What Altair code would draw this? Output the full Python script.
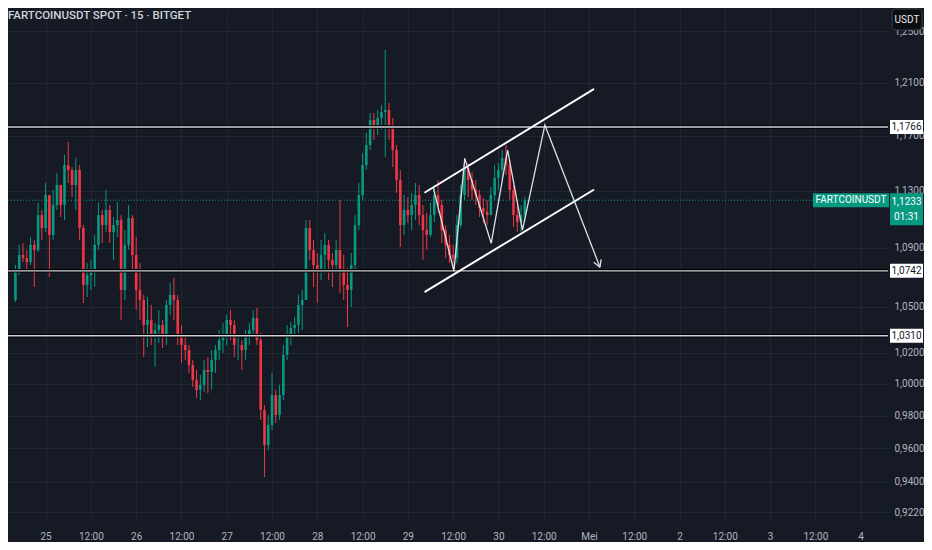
import altair as alt
import pandas as pd

# ---------------- data ----------------
first_open = 1.0546
hours = list(range(-8, 128))  # hours since 25 Apr 00:00
highs = [1.0782, 1.0920, 1.0933, 1.0885, 1.0975, 1.0954, 1.1214, 1.1164,
         1.1356, 1.1270, 1.1306, 1.1428, 1.1342, 1.1559, 1.1655, 1.1472,
         1.1538, 1.1486, 1.1058, 1.0795, 1.0816, 1.0989, 1.1214, 1.1164,
         1.1306, 1.1199, 1.1114, 1.1221, 1.1128, 1.1023, 1.1199, 1.1128,
         1.0975, 1.0795, 1.0580, 1.0566, 1.0513, 1.0393, 1.0479, 1.0413,
         1.0546, 1.0660, 1.0694, 1.0580, 1.0380, 1.0315, 1.0250, 1.0153,
         1.0089, 1.0057, 1.0153, 1.0172, 1.0217, 1.0250, 1.0347, 1.0393,
         1.0446, 1.0479, 1.0413, 1.0302, 1.0282, 1.0347, 1.0393, 1.0479,
         1.0493, 1.0328, 0.9868, 0.9806, 1.0070, 0.9962, 0.9994, 1.0250,
         1.0380, 1.0400, 1.0433, 1.0580, 1.0613, 1.1093, 1.1093, 1.0954,
         1.0864, 1.0954, 1.1002, 1.0954, 1.0864, 1.0954, 1.1235, 1.0851,
         1.0762, 1.0864, 1.1128, 1.1356, 1.1574, 1.1722, 1.1871, 1.1871,
         1.1893, 1.1931, 1.2354, 1.1946, 1.1833, 1.1633, 1.1450, 1.1270,
         1.1256, 1.1285, 1.1356, 1.1342, 1.1199, 1.1142, 1.1214, 1.1342,
         1.1378, 1.1235, 1.1058, 1.0989, 1.0920, 1.1128, 1.1342, 1.1538,
         1.1501, 1.1436, 1.1378, 1.1306, 1.1249, 1.1235, 1.1328, 1.1486,
         1.1501, 1.1596, 1.1633, 1.1523, 1.1342, 1.1199, 1.1199, 1.1256]
lows = [1.0533, 1.0714, 1.0802, 1.0748, 1.0782, 1.0633, 1.0871, 1.0954,
        1.1009, 1.0700, 1.0954, 1.1164, 1.1114, 1.1093, 1.1356, 1.1256,
        1.1164, 1.0954, 1.0526, 1.0566, 1.0613, 1.0633, 1.0885, 1.0933,
        1.1009, 1.0933, 1.0816, 1.0975, 1.0413, 1.0546, 1.0885, 1.0748,
        1.0479, 1.0413, 1.0172, 1.0237, 1.0250, 1.0108, 1.0263, 1.0230,
        1.0250, 1.0446, 1.0413, 1.0250, 1.0133, 1.0153, 1.0070, 0.9981,
        0.9912, 0.9899, 0.9949, 0.9943, 0.9962, 1.0070, 1.0153, 1.0198,
        1.0250, 1.0282, 1.0172, 1.0153, 1.0089, 1.0153, 1.0250, 1.0315,
        1.0250, 0.9775, 0.9428, 0.9591, 0.9713, 0.9757, 0.9775, 0.9899,
        1.0153, 1.0250, 1.0315, 1.0328, 1.0347, 1.0546, 1.0816, 1.0633,
        1.0526, 1.0680, 1.0728, 1.0680, 1.0633, 1.0728, 1.0593, 1.0546,
        1.0367, 1.0499, 1.0748, 1.1023, 1.1235, 1.1450, 1.1596, 1.1670,
        1.1707, 1.1744, 1.1545, 1.1670, 1.1472, 1.1285, 1.0906, 1.0989,
        1.1072, 1.1023, 1.1093, 1.1058, 1.0816, 1.0885, 1.0975, 1.1079,
        1.1142, 1.0933, 1.0830, 1.0795, 1.0734, 1.0795, 1.1037, 1.1235,
        1.1256, 1.1235, 1.1199, 1.1114, 1.1072, 1.1058, 1.1142, 1.1235,
        1.1306, 1.1378, 1.1414, 1.1235, 1.1044, 1.1009, 1.1009, 1.1079]
closes = [1.0734, 1.0851, 1.0830, 1.0802, 1.0920, 1.0885, 1.1128, 1.1037,
          1.1270, 1.0989, 1.1199, 1.1342, 1.1199, 1.1486, 1.1450, 1.1342,
          1.1450, 1.1037, 1.0647, 1.0714, 1.0734, 1.0920, 1.1128, 1.1058,
          1.1164, 1.1009, 1.1058, 1.1093, 1.0613, 1.0920, 1.1107, 1.0851,
          1.0613, 1.0546, 1.0380, 1.0413, 1.0315, 1.0347, 1.0380, 1.0315,
          1.0513, 1.0580, 1.0546, 1.0315, 1.0250, 1.0217, 1.0121, 1.0025,
          0.9962, 0.9994, 1.0089, 1.0076, 1.0153, 1.0217, 1.0282, 1.0315,
          1.0413, 1.0380, 1.0250, 1.0250, 1.0217, 1.0315, 1.0347, 1.0426,
          1.0282, 0.9837, 0.9621, 0.9744, 0.9930, 0.9806, 0.9930, 1.0185,
          1.0315, 1.0360, 1.0380, 1.0513, 1.0546, 1.1037, 1.0885, 1.0782,
          1.0748, 1.0851, 1.0920, 1.0816, 1.0782, 1.0885, 1.0748, 1.0647,
          1.0613, 1.0782, 1.1058, 1.1270, 1.1486, 1.1633, 1.1818, 1.1781,
          1.1833, 1.1878, 1.1893, 1.1781, 1.1596, 1.1378, 1.1058, 1.1164,
          1.1128, 1.1199, 1.1270, 1.1128, 1.1023, 1.0989, 1.1128, 1.1270,
          1.1199, 1.1023, 1.0920, 1.0851, 1.0830, 1.1058, 1.1270, 1.1465,
          1.1378, 1.1306, 1.1270, 1.1178, 1.1150, 1.1128, 1.1270, 1.1392,
          1.1450, 1.1538, 1.1486, 1.1306, 1.1128, 1.1079, 1.1128, 1.1233]
opens = [first_open] + closes[:-1]

levels = [1.1766, 1.0742, 1.0310]
level_labels = ["1,1766", "1,0742", "1,0310"]
last_price = 1.1233
last_price_label = "1,1233"
countdown_label = "01:31"
symbol_label = "FARTCOINUSDT"
title_text = "FARTCOINUSDT SPOT \u00b7 15 \u00b7 BITGET"
currency_label = "USDT"

# channel drawn on the chart (start/end in hours and price)
chan_t1 = [100.61, 100.61]
chan_p1 = [1.1290, 1.0602]
chan_t2 = [145.15, 145.15]
chan_p2 = [1.2050, 1.1306]
# zig-zag projection path
zig_t = [102.79, 108.21, 111.09, 118.09, 122.44, 126.37, 132.31, 146.91]
zig_p = [1.1318, 1.0740, 1.1535, 1.0931, 1.1596, 1.1023, 1.1781, 1.0767]
# arrow head wings
arrow_t1 = [146.91, 146.91]
arrow_p1 = [1.0767, 1.0767]
arrow_t2 = [147.22, 145.28]
arrow_p2 = [1.0820, 1.0800]

x_ticks = list(range(0, 217, 12))
day_labels = ["25", "26", "27", "28", "29", "30", "Mei", "2", "3", "4"]
y_ticks = [0.922, 0.94, 0.96, 0.98, 1.0, 1.02, 1.05, 1.09, 1.13, 1.17, 1.21, 1.25]

# ---------------- style ----------------
W, H = 880, 514
X_DOMAIN = [-8.646, 221.92]
Y_DOMAIN = [0.91634, 1.26864]
GREEN = "#089981"
RED = "#f23645"
BG = "#161a25"
GRID = "#222631"
TXT = "#b2b5be"
FONT = "Roboto"

candles = pd.DataFrame({"t": hours, "open": opens, "high": highs,
                        "low": lows, "close": closes})
candles["dir"] = ["up" if c >= o else "down" for o, c in zip(opens, closes)]

xs = alt.Scale(domain=X_DOMAIN, nice=False, zero=False)
ys = alt.Scale(type="log", domain=Y_DOMAIN, nice=False, zero=False)
x_label_expr = ("datum.value % 24 == 12 ? '12:00' : "
                + str(day_labels) + "[floor(datum.value / 24)]")
y_label_expr = "replace(format(datum.value, '.4f'), '.', ',')"

x_axis = alt.Axis(values=x_ticks, labelExpr=x_label_expr, title=None,
                  grid=True, gridColor=GRID, domain=False, ticks=False,
                  labelFlush=False, labelOverlap=False, labelPadding=9,
                  labelColor=TXT, labelFont=FONT, labelFontSize=10)
y_axis = alt.Axis(values=y_ticks, labelExpr=y_label_expr, title=None,
                  orient="right", grid=True, gridColor=GRID, domain=False,
                  ticks=False, labelOverlap=False, labelFlush=False,
                  labelBound=False, labelPadding=6, labelColor=TXT,
                  labelFont=FONT, labelFontSize=10)


def X(field):
    return alt.X(field, scale=xs, axis=x_axis)


def Y(field):
    return alt.Y(field, scale=ys, axis=y_axis)


color = alt.Color("dir:N", scale=alt.Scale(domain=["up", "down"],
                                           range=[GREEN, RED]), legend=None)

wicks = alt.Chart(candles).mark_rule(strokeWidth=1).encode(
    x=X("t:Q"), y=Y("low:Q"), y2="high:Q", color=color)
bodies = alt.Chart(candles).mark_bar(width=2.6).encode(
    x=X("t:Q"), y=Y("open:Q"), y2="close:Q", color=color)

lv = pd.DataFrame({"p": levels, "lab": level_labels})
lvl_dark = alt.Chart(lv).mark_rule(color="#000000", strokeWidth=3.5).encode(
    y=Y("p:Q"))
lvl_light = alt.Chart(lv).mark_rule(color="#d1d4dc", strokeWidth=1.4).encode(
    y=Y("p:Q"))

lp = pd.DataFrame({"p": [last_price], "lab": [last_price_label],
                   "cd": [countdown_label], "sym": [symbol_label]})
price_line = alt.Chart(lp).mark_rule(color=GREEN, strokeWidth=1,
                                     strokeDash=[1, 2]).encode(y=Y("p:Q"))

ch = pd.DataFrame({"t1": chan_t1, "p1": chan_p1, "t2": chan_t2, "p2": chan_p2})
channel = alt.Chart(ch).mark_rule(color="#ffffff", strokeWidth=2,
                                  strokeCap="round").encode(
    x=X("t1:Q"), y=Y("p1:Q"), x2="t2:Q", y2="p2:Q")

zz = pd.DataFrame({"t": zig_t, "p": zig_p, "i": list(range(len(zig_t)))})
zigzag = alt.Chart(zz).mark_line(color="#dfe1e6", strokeWidth=1.3).encode(
    x=X("t:Q"), y=Y("p:Q"), order="i:Q")

ar = pd.DataFrame({"t1": arrow_t1, "p1": arrow_p1, "t2": arrow_t2, "p2": arrow_p2})
arrow = alt.Chart(ar).mark_rule(color="#dfe1e6", strokeWidth=1.3).encode(
    x=X("t1:Q"), y=Y("p1:Q"), x2="t2:Q", y2="p2:Q")

BOX = "M-1,-0.4242L1,-0.4242L1,0.4242L-1,0.4242Z"
lvl_box = alt.Chart(lv).mark_point(shape=BOX, size=33 * 33, filled=True,
                                   opacity=1, color="#ffffff", strokeWidth=0).encode(
    x=alt.value(898.5), y=Y("p:Q"))
lvl_txt = alt.Chart(lv).mark_text(font=FONT, fontSize=10, color="#131722",
                                  baseline="middle", align="center").encode(
    x=alt.value(898.5), y=Y("p:Q"), text="lab:N")

PBOX = "M-1,-0.4242L1,-0.4242L1,1.515L-1,1.515Z"
p_box = alt.Chart(lp).mark_point(shape=PBOX, size=33 * 33, filled=True,
                                 opacity=1, color=GREEN, strokeWidth=0).encode(
    x=alt.value(898.5), y=Y("p:Q"))
p_txt = alt.Chart(lp).mark_text(font=FONT, fontSize=10, color="#ffffff",
                                baseline="middle", align="center", dy=2).encode(
    x=alt.value(898.5), y=Y("p:Q"), text="lab:N")
cd_txt = alt.Chart(lp).mark_text(font=FONT, fontSize=10, color="#ffffff",
                                 baseline="middle", align="center", dy=17).encode(
    x=alt.value(898.5), y=Y("p:Q"), text="cd:N")

SBOX = "M-1,-0.1842L1,-0.1842L1,0.1842L-1,0.1842Z"
s_box = alt.Chart(lp).mark_point(shape=SBOX, size=76 * 76, filled=True,
                                 opacity=1, color=GREEN, strokeWidth=0).encode(
    x=alt.value(843), y=Y("p:Q"))
s_txt = alt.Chart(lp).mark_text(font=FONT, fontSize=10, color="#ffffff",
                                baseline="middle", align="center").encode(
    x=alt.value(843), y=Y("p:Q"), text="sym:N")

meta = pd.DataFrame({"title": [title_text], "cur": [currency_label]})
title = alt.Chart(meta).mark_text(font=FONT, fontSize=11.5, fontWeight=500,
                                  color="#d1d4dc", align="left",
                                  baseline="middle").encode(
    x=alt.value(0), y=alt.value(8), text="title:N")
cur_box = alt.Chart(meta).mark_rect(color="#0c0d11", stroke="#3a3e4a",
                                    strokeWidth=1, cornerRadius=4).encode(
    x=alt.value(884), x2=alt.value(914), y=alt.value(1), y2=alt.value(22))
cur_txt = alt.Chart(meta).mark_text(font=FONT, fontSize=10, color="#e6e8ee",
                                    align="center", baseline="middle").encode(
    x=alt.value(899), y=alt.value(11.5), text="cur:N")

chart = alt.layer(
    wicks, bodies, lvl_dark, lvl_light, price_line, channel, zigzag, arrow,
    s_box, s_txt, lvl_box, lvl_txt, p_box, p_txt, cd_txt,
    title, cur_box, cur_txt,
).properties(
    width=W, height=H,
    autosize=alt.AutoSizeParams(type="none"),
    padding={"left": 0, "top": 0, "right": 36, "bottom": 20},
    background=BG,
).configure_view(strokeWidth=0)

chart.save("out.html", embed_options={"renderer": "svg", "actions": False})
